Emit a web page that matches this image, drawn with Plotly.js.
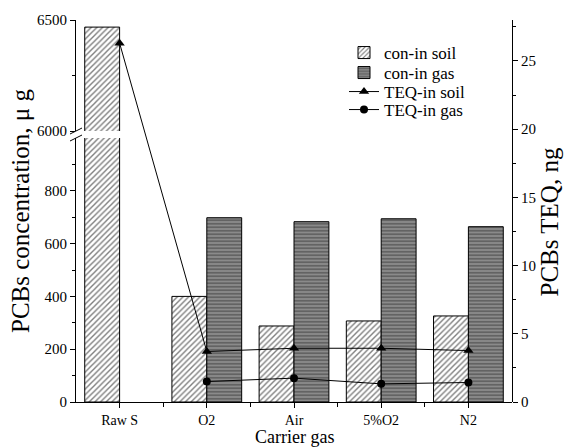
<!DOCTYPE html>
<html>
<head>
<meta charset="utf-8">
<script src="https://cdn.plot.ly/plotly-3.0.1.min.js"></script>
<style>html,body{margin:0;padding:0;background:#fff;}#chart{width:564px;height:448px;}</style>
</head>
<body>
<div id="chart"></div>
<script>
// ---- data ----
const categories = ['Raw S', 'O2', 'Air', '5%O2', 'N2'];
const conSoil = [6468, 400, 288, 307, 326];      // PCBs concentration in soil, μg
const conGas  = [null, 698, 683, 694, 664];      // PCBs concentration in gas, μg
const teqSoil = [26.3, 3.7, 3.94, 3.94, 3.77];   // TEQ in soil, ng
const teqGas  = [null, 1.5, 1.75, 1.33, 1.43];   // TEQ in gas, ng
const lowerTicks = [0, 200, 400, 600, 800];
const lowerMinor = [100, 300, 500, 700, 900];
const upperTicks = [6000, 6500];
const upperMinor = [6250];
const seriesNames = ['con-in soil', 'con-in gas', 'TEQ-in soil', 'TEQ-in gas'];

const xIdx = categories.map((c, i) => i);
const FONT = 'Liberation Serif, Times New Roman, serif';

const soilStyle = {
  color: '#ffffff',
  line: {color: '#000', width: 1},
  pattern: {shape: '/', fgcolor: '#000', bgcolor: '#ffffff', size: 4, solidity: 0.35, fillmode: 'overlay'}
};
const gasStyle = {
  color: '#888888',
  line: {color: '#000', width: 1},
  pattern: {shape: '-', fgcolor: '#333333', bgcolor: '#8a8a8a', size: 3.5, solidity: 0.45, fillmode: 'overlay'}
};

const data = [
  {type: 'bar', name: seriesNames[0], x: xIdx, y: conSoil, xaxis: 'x', yaxis: 'y',
   width: 0.4, offset: -0.4, marker: soilStyle, legend: 'legend'},
  {type: 'bar', name: seriesNames[1], x: xIdx, y: conGas, xaxis: 'x', yaxis: 'y',
   width: 0.4, offset: 0, marker: gasStyle, legend: 'legend2'},
  {type: 'bar', name: seriesNames[0], x: xIdx, y: conSoil, xaxis: 'x', yaxis: 'y2',
   width: 0.4, offset: -0.4, marker: soilStyle, showlegend: false},
  {type: 'scatter', mode: 'lines+markers', name: seriesNames[2], x: xIdx, y: teqSoil,
   xaxis: 'x', yaxis: 'y3', line: {color: '#000', width: 1},
   marker: {symbol: 'triangle-up', size: 9, color: '#000'}, legend: 'legend3'},
  {type: 'scatter', mode: 'lines+markers', name: seriesNames[3], x: xIdx, y: teqGas,
   xaxis: 'x', yaxis: 'y3', line: {color: '#000', width: 1},
   marker: {symbol: 'circle', size: 8, color: '#000'}, legend: 'legend4'}
];

const axisBase = {
  showline: true, linecolor: '#000', linewidth: 1, showgrid: false, zeroline: false,
  ticks: 'outside', ticklen: 5, tickwidth: 1, tickcolor: '#000',
  tickfont: {family: FONT, size: 15, color: '#000'}
};

// paper-coordinate helpers for decorations (break marks, legend rows)
const L = 76, T = 20, W = 436, H = 382;
const px = (x) => (x - L) / W;
const py = (y) => (T + H - y) / H;

const legendBase = (yPix) => ({
  x: px(344), y: py(yPix), xanchor: 'left', yanchor: 'middle', bgcolor: 'rgba(0,0,0,0)',
  font: {family: FONT, size: 17, color: '#000'}
});

const layout = {
  width: 564, height: 448,
  margin: {l: 76, r: 52, t: 20, b: 46, pad: 0},
  paper_bgcolor: '#ffffff', plot_bgcolor: 'rgba(0,0,0,0)',
  font: {family: FONT, color: '#000', size: 15},
  barmode: 'overlay',
  showlegend: true,
  legend: legendBase(53),
  legend2: legendBase(73),
  legend3: legendBase(92),
  legend4: legendBase(110),
  xaxis: Object.assign({}, axisBase, {
    domain: [0, 1], anchor: 'y', range: [-0.5, 4.5],
    tickmode: 'array', tickvals: xIdx, ticktext: categories, ticklen: 5,
    tickfont: {family: FONT, size: 14, color: '#000'},
    minor: {tickmode: 'array', tickvals: [0.5, 1.5, 2.5, 3.5], ticks: 'outside', ticklen: 4, tickcolor: '#000'}
  }),
  yaxis: Object.assign({}, axisBase, {
    domain: [0, py(138)], anchor: 'x', range: [0, 1000],
    tickmode: 'array', tickvals: lowerTicks,
    minor: {tickmode: 'array', tickvals: lowerMinor, ticks: 'outside', ticklen: 3, tickcolor: '#000'}
  }),
  yaxis2: Object.assign({}, axisBase, {
    domain: [py(131), 1], anchor: 'x', range: [6000, 6500],
    tickmode: 'array', tickvals: upperTicks,
    minor: {tickmode: 'array', tickvals: upperMinor, ticks: 'outside', ticklen: 3, tickcolor: '#000'}
  }),
  yaxis3: Object.assign({}, axisBase, {
    domain: [0, 1], anchor: 'x', side: 'right', range: [0, 28],
    tickmode: 'linear', tick0: 0, dtick: 5,
    minor: {tick0: 0, dtick: 2.5, ticks: 'outside', ticklen: 3, tickcolor: '#000'}
  }),
  shapes: [
    {type: 'line', xref: 'paper', yref: 'paper', x0: px(70), y0: py(134), x1: px(82), y1: py(128),
     line: {color: '#000', width: 1}},
    {type: 'line', xref: 'paper', yref: 'paper', x0: px(70), y0: py(141), x1: px(82), y1: py(135),
     line: {color: '#000', width: 1}}
  ],
  annotations: [
    {text: 'PCBs concentration, μ g', xref: 'paper', yref: 'paper', x: 0, y: 0.5,
     xshift: -56, textangle: -90, showarrow: false, xanchor: 'center', yanchor: 'middle',
     font: {family: FONT, size: 25, color: '#000'}},
    {text: 'PCBs TEQ, ng', xref: 'paper', yref: 'paper', x: 1, y: 0.47,
     xshift: 37, textangle: -90, showarrow: false, xanchor: 'center', yanchor: 'middle',
     font: {family: FONT, size: 25, color: '#000'}},
    {text: 'Carrier gas', xref: 'paper', yref: 'paper', x: 0.5, y: 0,
     yshift: -46, showarrow: false, xanchor: 'center', yanchor: 'bottom', borderpad: 0,
     font: {family: FONT, size: 18, color: '#000'}}
  ]
};

Plotly.newPlot('chart', data, layout, {displayModeBar: false, staticPlot: true});
</script>
</body>
</html>
